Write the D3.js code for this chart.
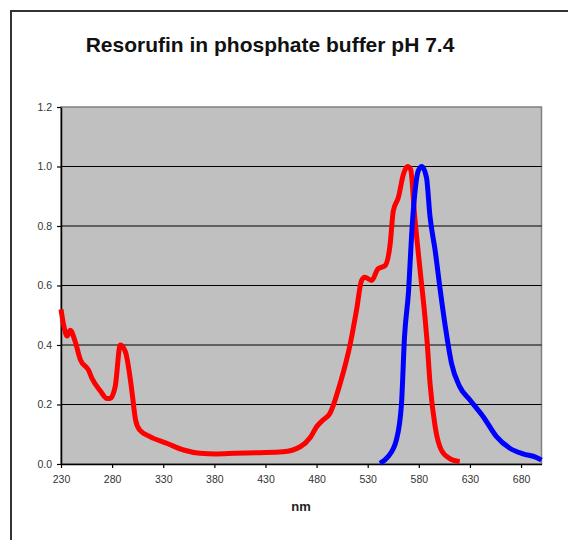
<!DOCTYPE html>
<html>
<head>
<meta charset="utf-8">
<script src="https://cdn.jsdelivr.net/npm/d3@7"></script>
<style>
  body { margin: 0; background: #fff; }
  svg { display: block; font-family: "Liberation Sans", Arial, sans-serif; }
</style>
</head>
<body>
<svg id="chart" width="568" height="540"></svg>
<script>
// absorbance (red)
let absNm  = [230, 233, 236, 239, 244, 249, 257, 260, 268, 275, 278, 283, 288, 293, 298, 300, 303, 307, 317, 334, 350, 366, 382, 400, 424, 447, 464, 474, 480, 486, 493, 503, 513, 519, 524, 527, 534, 540, 547, 552, 555, 560, 565, 569, 572, 576, 581, 586, 588, 591, 596, 602, 610, 620]
let absVal = [0.52, 0.46, 0.43, 0.45, 0.41, 0.35, 0.315, 0.29, 0.248, 0.22, 0.22, 0.26, 0.40, 0.377, 0.28, 0.226, 0.147, 0.114, 0.092, 0.069, 0.047, 0.036, 0.034, 0.036, 0.038, 0.041, 0.058, 0.09, 0.125, 0.147, 0.17, 0.27, 0.405, 0.516, 0.617, 0.628, 0.617, 0.656, 0.667, 0.74, 0.85, 0.896, 0.975, 1.0, 0.99, 0.83, 0.66, 0.494, 0.416, 0.27, 0.125, 0.047, 0.019, 0.008]

// emission (blue)
let emNm  = [542, 550, 558, 563, 566, 570, 573, 576, 579.5, 583, 587.5, 591, 596, 601, 606, 612, 620, 630, 643, 656, 669, 682, 695, 700]
let emVal = [0.002, 0.025, 0.08, 0.2, 0.427, 0.583, 0.773, 0.907, 0.986, 1.0, 0.963, 0.83, 0.717, 0.583, 0.46, 0.338, 0.26, 0.215, 0.159, 0.092, 0.053, 0.034, 0.022, 0.013]

let xTicks = [230, 280, 330, 380, 430, 480, 530, 580, 630, 680]
let yTicks = [0, 0.2, 0.4, 0.6, 0.8, 1.0, 1.2]

let svg = d3.select("#chart")

// outer frame
svg.append("path")
    .attr("d", "M11,545 L11,11 L575,11")
    .attr("fill", "none")
    .attr("stroke", "#333")
    .attr("stroke-width", 2)

svg.append("text")
    .attr("x", 270)
    .attr("y", 52)
    .attr("text-anchor", "middle")
    .style("font-size", "21px")
    .style("font-weight", "bold")
    .attr("fill", "#111")
    .text("Resorufin in phosphate buffer pH 7.4")

let plotLeft = 61, plotRight = 541.5, plotTop = 107, plotBottom = 464

let xScale = d3.scaleLinear().domain([230, 700]).range([plotLeft, plotRight])
let yScale = d3.scaleLinear().domain([0, 1.2]).range([plotBottom, plotTop])

svg.append("rect")
    .attr("x", plotLeft)
    .attr("y", plotTop)
    .attr("width", plotRight - plotLeft)
    .attr("height", plotBottom - plotTop)
    .attr("fill", "#c0c0c0")
    .attr("stroke", "#808080")
    .attr("stroke-width", 1.5)

// gridlines
svg.selectAll(".grid")
    .data(yTicks.filter(t => t > 0 && t < 1.2))
    .enter()
    .append("line")
    .attr("x1", plotLeft)
    .attr("x2", plotRight)
    .attr("y1", d => yScale(d))
    .attr("y2", d => yScale(d))
    .attr("stroke", "#000")
    .attr("stroke-width", 1.2)

let xAxis = svg.append("g")
    .attr("transform", "translate(0," + plotBottom + ")")
    .call(d3.axisBottom(xScale).tickValues(xTicks).tickSize(4).tickPadding(8).tickSizeOuter(0))

let yAxis = svg.append("g")
    .attr("transform", "translate(" + plotLeft + ",0)")
    .call(d3.axisLeft(yScale).tickValues(yTicks).tickSize(4).tickPadding(5).tickSizeOuter(0).tickFormat(d3.format(".1f")))

for (let ax of [xAxis, yAxis]) {
    ax.select(".domain").attr("stroke", "#000").attr("stroke-width", 1.5)
    ax.selectAll(".tick line").attr("stroke", "#000").attr("stroke-width", 1.2)
    ax.selectAll(".tick text")
        .style("font-size", "10.5px")
        .style("font-family", "'Liberation Sans', Arial, sans-serif")
        .attr("fill", "#333")
}

let line = d3.line()
    .x(d => xScale(d[0]))
    .y(d => yScale(d[1]))
    .curve(d3.curveMonotoneX)

svg.append("path")
    .datum(d3.zip(absNm, absVal))
    .attr("d", line)
    .attr("fill", "none")
    .attr("stroke", "#ff0000")
    .attr("stroke-width", 5)
    .attr("stroke-linejoin", "round")

svg.append("path")
    .datum(d3.zip(emNm, emVal))
    .attr("d", line)
    .attr("fill", "none")
    .attr("stroke", "#0000ff")
    .attr("stroke-width", 5)
    .attr("stroke-linejoin", "round")

svg.append("text")
    .attr("x", 301)
    .attr("y", 511)
    .attr("text-anchor", "middle")
    .style("font-size", "13px")
    .style("font-weight", "bold")
    .attr("fill", "#222")
    .text("nm")
</script>
</body>
</html>
